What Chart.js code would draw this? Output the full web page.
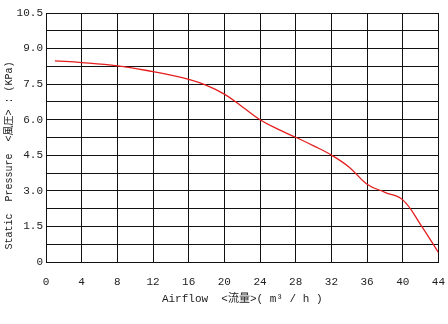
<!DOCTYPE html>
<html>
<head>
<meta charset="utf-8">
<script src="https://cdn.jsdelivr.net/npm/chart.js@4/dist/chart.umd.min.js"></script>
<style>
  html, body { margin: 0; padding: 0; background: #fff; }
  #wrap { width: 448px; height: 324px; }
</style>
</head>
<body>
<div id="wrap"><canvas id="pq"></canvas></div>
<script>
// airflow (m3/h) and static pressure (kPa)
var airflow  = [1, 4, 8, 12, 14, 16, 18, 20, 22, 24, 26, 28, 30, 32, 34, 36, 38, 40, 42, 44];
var pressure = [8.48, 8.41, 8.27, 8.03, 7.88, 7.70, 7.45, 7.08, 6.55, 6.0, 5.6, 5.26, 4.9, 4.51, 4.0, 3.28, 2.94, 2.62, 1.58, 0.4];
var yLabels  = ["0", "1.5", "3.0", "4.5", "6.0", "7.5", "9.0", "10.5"];

var fontFam = "'Liberation Mono', 'DejaVu Sans Mono', 'Noto Sans CJK JP', monospace";

var punkte = [];
for (let i = 0; i < airflow.length; i++) {
    punkte.push({ x: airflow[i], y: pressure[i] });
}

var ctx = document.getElementById("pq").getContext("2d");
var chart = new Chart(ctx, {
    type: "line",
    data: {
        datasets: [{
            data: punkte,
            borderColor: "#e41e1e",
            borderWidth: 1.3,
            pointRadius: 0,
            tension: 0.4,
            fill: false
        }]
    },
    options: {
        responsive: true,
        maintainAspectRatio: false,
        animation: false,
        events: [],
        layout: { padding: { left: 0, right: 0, top: 13, bottom: 0 } },
        plugins: { legend: { display: false }, tooltip: { enabled: false } },
        scales: {
            x: {
                type: "linear",
                min: 0,
                max: 44,
                ticks: { stepSize: 4, padding: 3, color: "#222", font: { family: fontFam, size: 11 } },
                // ticks kept invisible, only to push the labels down
                grid: { color: "#111", lineWidth: 1, drawTicks: true, tickLength: 10, tickColor: "rgba(0,0,0,0)" },
                border: { color: "#111" },
                title: {
                    display: true,
                    text: "Airflow  <流量>( m³ / h )",
                    color: "#222",
                    font: { family: fontFam, size: 11 },
                    padding: { top: 0, bottom: 18 }
                },
                afterFit: function (s) { s.height = 62; }
            },
            y: {
                min: 0,
                max: 10.5,
                ticks: {
                    stepSize: 0.75,
                    padding: 3,
                    color: "#222",
                    font: { family: fontFam, size: 11 },
                    callback: function (v) {
                        var k = Math.round(v / 1.5 * 100) / 100;
                        if (Number.isInteger(k)) return yLabels[k];
                        return "";
                    }
                },
                grid: { color: "#111", lineWidth: 1, drawTicks: false },
                border: { color: "#111" },
                title: {
                    display: true,
                    text: "Static  Pressure  <風圧> : (KPa)      ",
                    color: "#222",
                    font: { family: fontFam, size: 10 },
                    padding: { top: 3, bottom: 3 }
                },
                afterFit: function (s) { s.width = 46; }
            }
        }
    }
});
</script>
</body>
</html>
